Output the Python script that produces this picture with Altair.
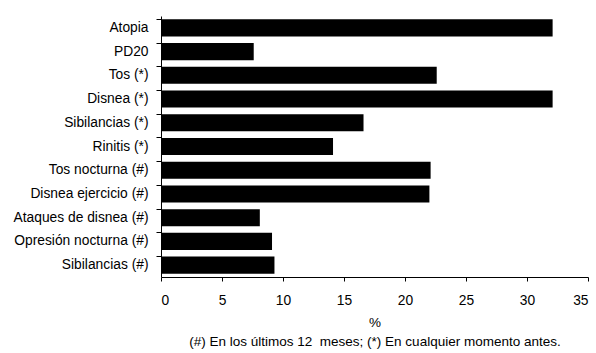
import altair as alt
import pandas as pd

categories = ["Atopia", "PD20", "Tos (*)", "Disnea (*)", "Sibilancias (*)", "Rinitis (*)",
              "Tos nocturna (#)", "Disnea ejercicio (#)", "Ataques de disnea (#)",
              "Opresión nocturna (#)", "Sibilancias (#)"]
values = [32.1, 7.6, 22.6, 32.1, 16.6, 14.1, 22.1, 22.0, 8.1, 9.1, 9.3]
x_ticks = [0, 5, 10, 15, 20, 25, 30, 35]
x_title = ["%", "(#) En los últimos 12\u00a0 meses; (*) En cualquier momento antes."]

df = pd.DataFrame({"cat": categories, "val": values})

FONT = "Liberation Sans"

chart = alt.Chart(df).mark_bar(color="black").encode(
    x=alt.X("val:Q",
            scale=alt.Scale(domain=[0, 35], nice=False, zero=True),
            axis=alt.Axis(values=x_ticks, title=x_title, grid=False,
                          domainColor="black", tickColor="black",
                          tickSize=4, labelPadding=12, labelFontSize=13.8,
                          labelColor="black", labelFont=FONT,
                          titleFont=FONT, titleFontSize=13.5, titleFontWeight="normal",
                          titleColor="black", titleLineHeight=19, titlePadding=9)),
    y=alt.Y("cat:N", sort=categories,
            scale=alt.Scale(paddingInner=0.28, paddingOuter=0.14),
            axis=alt.Axis(title=None, bandPosition=0, domainColor="black",
                          tickColor="black", tickSize=5, labelPadding=8,
                          labelFontSize=13.8, labelColor="black", labelFont=FONT)),
).properties(
    width=427, height=261,
    autosize=alt.AutoSizeParams(type="none"),
    padding={"left": 161, "top": 16, "right": 8, "bottom": 76},
).configure_view(stroke=None)

chart.save("out.html", embed_options={"renderer": "svg", "actions": False})
